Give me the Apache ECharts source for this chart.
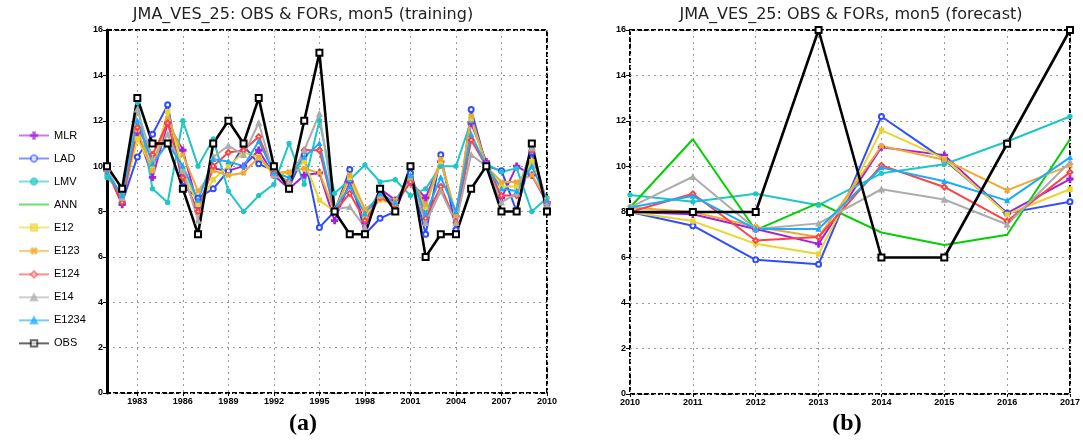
<!DOCTYPE html>
<html>
<head>
<meta charset="utf-8">
<title>JMA_VES_25 mon5</title>
<script src="https://cdn.jsdelivr.net/npm/echarts@6/dist/echarts.min.js"></script>
<style>
    html, body { margin: 0; padding: 0; background: #ffffff; }
    #chart { width: 1083px; height: 443px; }
</style>
</head>
<body>
<div id="chart"></div>
<script>
    // years
    var trainYears = ['1981','1982','1983','1984','1985','1986','1987','1988','1989','1990',
                      '1991','1992','1993','1994','1995','1996','1997','1998','1999','2000',
                      '2001','2002','2003','2004','2005','2006','2007','2008','2009','2010'];
    var fcstYears = ['2010','2011','2012','2013','2014','2015','2016','2017'];
    var yTicks = [0, 2, 4, 6, 8, 10, 12, 14, 16];

    // training (1981-2010)
    var trainMLR   = [9.8, 8.3, 11.5, 9.5, 11.9, 10.7, 8.2, 9.9, 9.8, 10.0, 10.7, 9.6, 9.0, 9.6, 9.7, 7.6, 9.3, 7.5, 9.0, 8.5, 9.3, 8.6, 10.2, 7.8, 11.9, 10.2, 8.6, 10.0, 9.6, 8.4];
    var trainLAD   = [9.9, 8.4, 10.4, 11.4, 12.7, 9.1, 8.6, 9.0, 9.8, 10.9, 10.1, 9.8, 9.1, 10.5, 7.3, 8.0, 9.85, 7.0, 7.7, 8.0, 9.7, 7.0, 10.5, 7.2, 12.5, 10.0, 9.8, 8.0, 10.6, 8.3];
    var trainLMV   = [9.5, 8.8, 12.8, 9.0, 8.4, 12.0, 10.0, 11.2, 8.9, 8.0, 8.7, 9.2, 11.0, 9.2, 12.0, 8.8, 9.4, 10.05, 9.3, 9.4, 8.7, 9.0, 10.0, 10.0, 12.0, 10.1, 9.75, 9.9, 8.0, 8.6];
    var trainANN   = [];
    var trainE12   = [9.7, 8.5, 11.2, 9.9, 12.4, 9.8, 8.3, 9.4, 10.0, 10.6, 10.4, 9.6, 9.7, 10.2, 8.5, 8.0, 9.5, 7.8, 8.5, 8.3, 9.4, 8.2, 10.2, 7.9, 12.1, 10.0, 9.1, 9.1, 10.2, 8.4];
    var trainE123  = [9.8, 8.6, 11.6, 9.8, 12.1, 10.5, 8.9, 9.8, 9.6, 9.7, 10.4, 9.7, 9.75, 9.9, 9.7, 8.0, 9.6, 8.1, 8.6, 8.5, 9.5, 8.3, 10.3, 7.8, 12.2, 10.0, 9.3, 9.3, 9.6, 8.5];
    var trainE124  = [9.8, 8.4, 11.7, 10.5, 11.9, 9.5, 8.0, 10.0, 10.6, 10.7, 11.3, 9.7, 9.3, 10.7, 10.7, 8.0, 8.8, 7.6, 8.6, 8.3, 9.3, 7.7, 9.1, 7.5, 11.15, 10.0, 8.7, 8.7, 10.7, 8.4];
    var trainE14   = [9.9, 8.6, 12.5, 10.3, 11.4, 9.8, 7.6, 10.4, 10.9, 10.5, 11.9, 9.6, 9.3, 10.7, 12.3, 8.1, 8.2, 7.3, 8.7, 8.4, 9.5, 7.5, 8.9, 7.5, 10.5, 10.0, 8.4, 8.8, 10.8, 8.3];
    var trainE1234 = [9.7, 8.7, 12.0, 10.1, 11.0, 10.0, 8.5, 10.3, 10.2, 10.0, 11.1, 9.7, 9.5, 10.4, 11.0, 8.1, 9.1, 7.9, 8.8, 8.4, 9.6, 7.9, 9.5, 8.0, 11.4, 10.0, 9.0, 8.9, 10.0, 8.5];
    var trainOBS   = [10, 9, 13, 11, 11, 9, 7, 11, 12, 11, 13, 10, 9, 12, 15, 8, 7, 7, 9, 8, 10, 6, 7, 7, 9, 10, 8, 8, 11, 8];

    // forecast (2010-2017)
    var fcstMLR   = [8.0, 7.9, 7.25, 6.6, 10.85, 10.5, 7.95, 9.45];
    var fcstLAD   = [8.0, 7.4, 5.9, 5.7, 12.2, 10.3, 7.95, 8.45];
    var fcstLMV   = [8.75, 8.45, 8.8, 8.3, 9.7, 10.1, 11.1, 12.2];
    var fcstANN   = [8.2, 11.2, 7.2, 8.4, 7.1, 6.55, 7.0, 11.2];
    var fcstE12   = [8.0, 7.6, 6.6, 6.15, 11.6, 10.35, 7.9, 9.0];
    var fcstE123  = [8.2, 8.0, 7.35, 6.9, 10.9, 10.3, 8.95, 10.05];
    var fcstE124  = [8.0, 8.8, 6.75, 6.9, 10.05, 9.1, 7.6, 9.75];
    var fcstE14   = [8.2, 9.55, 7.25, 7.5, 9.0, 8.55, 7.45, 10.2];
    var fcstE1234 = [8.2, 8.7, 7.25, 7.25, 9.95, 9.35, 8.5, 10.4];
    var fcstOBS   = [8, 8, 8, 16, 6, 6, 11, 16];

    var plus = 'path://M3,0h2v3h3v2h-3v3h-2v-3h-3v-2h3z';
    var styles = {
        MLR:   {color: '#a41fe2', symbol: plus, size: 6},
        LAD:   {color: '#2f4cff', symbol: 'emptyCircle', size: 5},
        LMV:   {color: '#1ec6c6', symbol: 'circle', size: 4},
        ANN:   {color: '#00d000', symbol: 'none', size: 0},
        E12:   {color: '#e9d52f', symbol: 'rect', size: 4},
        E123:  {color: '#f0a92e', symbol: plus, size: 5, rotate: 45},
        E124:  {color: '#ff4242', symbol: 'emptyDiamond', size: 5},
        E14:   {color: '#acacac', symbol: 'triangle', size: 5},
        E1234: {color: '#18acff', symbol: 'triangle', size: 4},
        OBS:   {color: '#000000', symbol: 'emptyRect', size: 6, width: 2.6}
    };
    var names = ['MLR','LAD','LMV','ANN','E12','E123','E124','E14','E1234','OBS'];
    var trainData = [trainMLR, trainLAD, trainLMV, trainANN, trainE12, trainE123, trainE124, trainE14, trainE1234, trainOBS];
    var fcstData = [fcstMLR, fcstLAD, fcstLMV, fcstANN, fcstE12, fcstE123, fcstE124, fcstE14, fcstE1234, fcstOBS];

    function mk(name, idx, data) {
        var s = styles[name];
        return {
            name: name,
            type: 'line',
            xAxisIndex: idx,
            yAxisIndex: idx,
            data: data,
            symbol: s.symbol,
            symbolSize: s.size,
            symbolRotate: s.rotate || 0,
            showAllSymbol: true,
            animation: false,
            lineStyle: {color: s.color, width: s.width || 2},
            itemStyle: {color: s.color, borderColor: s.color, borderWidth: 1.3},
            z: 2
        };
    }

    var series = [];
    names.forEach(function (n, i) { series.push(mk(n, 0, trainData[i])); });
    names.forEach(function (n, i) { series.push(mk(n, 1, fcstData[i])); });

    // legend entries (ANN has no marker)
    var legendData = names.map(function (n) {
        return n === 'ANN' ? {name: n, itemStyle: {opacity: 0}} : {name: n};
    });

    var labelFont = {fontFamily: 'Liberation Sans', fontWeight: 'bold', fontSize: 9, color: '#000'};
    var gridLine = {show: true, lineStyle: {color: '#9a9a9a', type: [2, 4], width: 1}};
    var every3 = function (index) { return index % 3 === 2; };

    var chart = echarts.init(document.getElementById('chart'));
    chart.setOption({
        backgroundColor: '#ffffff',
        animation: false,
        legend: {
            orient: 'vertical',
            left: 13,
            top: 125,
            itemWidth: 30,
            itemHeight: 8,
            itemGap: 12,
            selectedMode: false,
            data: legendData,
            textStyle: {fontFamily: 'Liberation Sans', fontSize: 11, color: '#000', lineHeight: 8},
            itemStyle: {opacity: 0.6},
            lineStyle: {opacity: 0.6}
        },
        grid: [
            {left: 107, top: 30, width: 440, height: 363, show: true, borderColor: '#000', borderWidth: 2, borderType: [5, 2]},
            {left: 630, top: 30, width: 443, height: 364, show: true, borderColor: '#000', borderWidth: 2, borderType: [5, 2]}
        ],
        xAxis: [
            {
                type: 'category', gridIndex: 0, data: trainYears, boundaryGap: false,
                axisLine: {show: false},
                axisTick: {show: true, interval: every3, length: 3, lineStyle: {color: '#000'}},
                axisLabel: Object.assign({interval: every3, margin: 4}, labelFont),
                splitLine: Object.assign({interval: every3}, gridLine)
            },
            {
                type: 'category', gridIndex: 1, data: fcstYears, boundaryGap: false,
                axisLine: {show: false},
                axisTick: {show: true, length: 3, lineStyle: {color: '#000'}},
                axisLabel: Object.assign({interval: 0, margin: 4}, labelFont),
                splitLine: gridLine
            }
        ],
        yAxis: [
            {
                type: 'value', gridIndex: 0, min: yTicks[0], max: yTicks[yTicks.length - 1], interval: 2,
                axisLine: {show: true, lineStyle: {color: '#000', width: 3}},
                axisTick: {show: true, length: 4, lineStyle: {color: '#000'}},
                axisLabel: Object.assign({margin: 4}, labelFont),
                splitLine: gridLine
            },
            {
                type: 'value', gridIndex: 1, min: yTicks[0], max: yTicks[yTicks.length - 1], interval: 2,
                axisLine: {show: false},
                axisTick: {show: true, length: 4, lineStyle: {color: '#000'}},
                axisLabel: Object.assign({margin: 4}, labelFont),
                splitLine: gridLine
            }
        ],
        graphic: [
            {type: 'text', x: 303, y: 15, style: {text: 'JMA_VES_25: OBS & FORs, mon5 (training)', font: '16px "DejaVu Sans"', fill: '#222', align: 'center', verticalAlign: 'middle'}},
            {type: 'text', x: 851, y: 15, style: {text: 'JMA_VES_25: OBS & FORs, mon5 (forecast)', font: '16px "DejaVu Sans"', fill: '#222', align: 'center', verticalAlign: 'middle'}},
            {type: 'text', x: 303, y: 424, style: {text: '(a)', font: 'bold 24px "Liberation Serif"', fill: '#000', align: 'center', verticalAlign: 'middle'}},
            {type: 'text', x: 847, y: 424, style: {text: '(b)', font: 'bold 24px "Liberation Serif"', fill: '#000', align: 'center', verticalAlign: 'middle'}}
        ],
        series: series
    });
</script>
</body>
</html>
